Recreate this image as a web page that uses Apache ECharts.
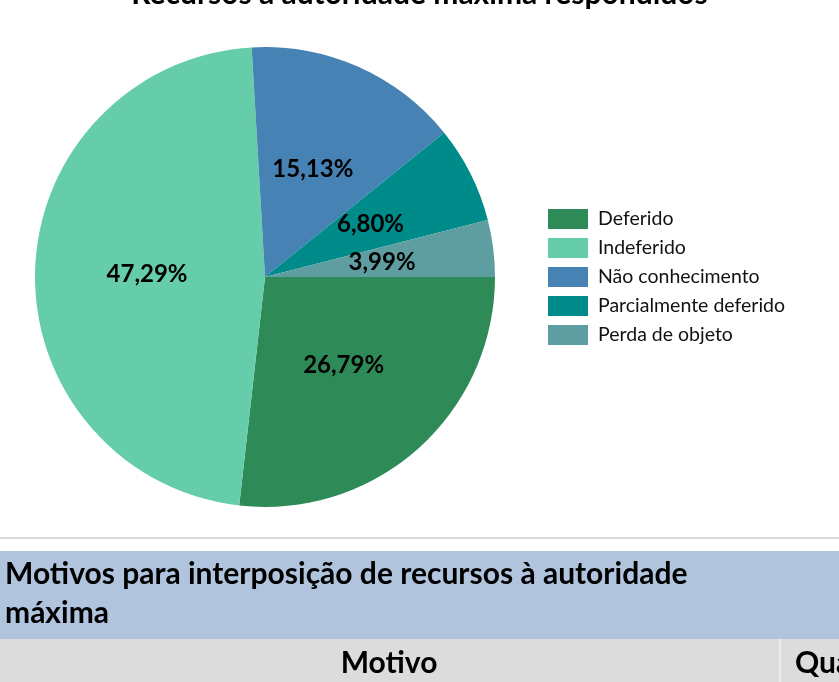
<!DOCTYPE html>
<html>
<head>
<meta charset="utf-8">
<script src="https://cdn.jsdelivr.net/npm/echarts@6/dist/echarts.min.js"></script>
<style>
  html, body { margin: 0; padding: 0; background: #fff; }
  #chart { width: 839px; height: 682px; }
</style>
</head>
<body>
<div id="chart"></div>
<script>
// categories and shares (%) of the pie
var categorias = ['Deferido', 'Indeferido', 'Não conhecimento', 'Parcialmente deferido', 'Perda de objeto'];
var percentuais = [26.79, 47.29, 15.13, 6.80, 3.99];
var cores = ['#2E8B57', '#66CDAA', '#4682B4', '#008B8B', '#5F9EA0'];

var titulo = 'Recursos à autoridade máxima respondidos';
var tituloTabela = ['Motivos para interposição de recursos à autoridade', 'máxima'];
var colunasTabela = ['Motivo', 'Quantidade'];

var FONTE = 'Lato, "Noto Sans", sans-serif';

var chart = echarts.init(document.getElementById('chart'), null, { renderer: 'canvas' });

var dados = [];
for (var i = 0; i < categorias.length; i++) {
    dados.push({ name: categorias[i], value: percentuais[i], itemStyle: { color: cores[i] } });
}

var option = {
    animation: false,
    backgroundColor: '#fff',
    title: {
        text: titulo,
        left: 'center',
        top: -26,
        textStyle: { fontFamily: FONTE, fontSize: 30, fontWeight: 'bold', color: '#000' }
    },
    legend: {
        orient: 'vertical',
        left: 543,
        top: 204,
        icon: 'rect',
        itemWidth: 40,
        itemHeight: 20,
        itemGap: 9,
        selectedMode: false,
        data: categorias,
        textStyle: { fontFamily: FONTE, fontSize: 19.5, color: '#111', padding: [0, 0, 0, 5] }
    },
    series: [{
        type: 'pie',
        center: [265, 277],
        radius: 230,
        startAngle: 0,
        clockwise: true,
        silent: true,
        avoidLabelOverlap: false,
        itemStyle: { borderWidth: 0 },
        label: {
            position: 'inside',
            fontFamily: FONTE,
            fontSize: 24,
            fontWeight: 'bold',
            color: '#000',
            formatter: function (p) {
                return p.value.toFixed(2).replace('.', ',') + '%';
            }
        },
        labelLine: { show: false },
        data: dados
    }],
    graphic: [
        { type: 'rect', shape: { x: 0, y: 537, width: 839, height: 2 }, style: { fill: '#d9d9d9' } },
        { type: 'rect', shape: { x: 0, y: 551, width: 839, height: 88 }, style: { fill: '#B0C4DE' } },
        { type: 'rect', shape: { x: 0, y: 639, width: 839, height: 43 }, style: { fill: '#DCDCDC' } },
        { type: 'rect', shape: { x: 779, y: 639, width: 2, height: 43 }, style: { fill: '#ececec' } },
        {
            type: 'text', left: 5, top: 559,
            style: { text: tituloTabela[0], fontFamily: FONTE, fontSize: 30, fontWeight: 'bold', fill: '#000' }
        },
        {
            type: 'text', left: 5, top: 598,
            style: { text: tituloTabela[1], fontFamily: FONTE, fontSize: 30, fontWeight: 'bold', fill: '#000' }
        },
        {
            type: 'text', x: 389, y: 648,
            style: { text: colunasTabela[0], textAlign: 'center', fontFamily: FONTE, fontSize: 30, fontWeight: 'bold', fill: '#000' }
        },
        {
            type: 'text', x: 795, y: 648,
            style: { text: colunasTabela[1], fontFamily: FONTE, fontSize: 30, fontWeight: 'bold', fill: '#000' }
        }
    ]
};

chart.setOption(option);
</script>
</body>
</html>
